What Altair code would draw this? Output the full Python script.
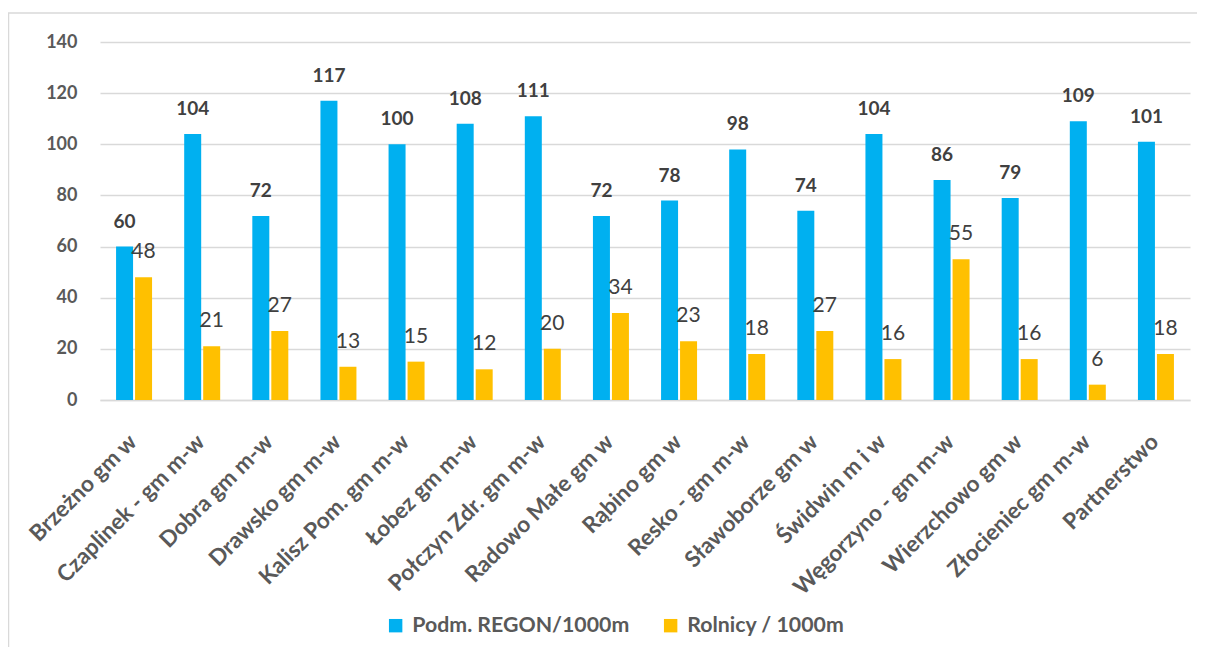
import altair as alt
import pandas as pd

categories = ["Brzeżno gm w", "Czaplinek - gm m-w", "Dobra gm m-w", "Drawsko gm m-w",
              "Kalisz Pom. gm m-w", "Łobez gm m-w", "Połczyn Zdr. gm m-w", "Radowo Małe gm w",
              "Rąbino gm w", "Resko - gm m-w", "Sławoborze gm w", "Świdwin m i w",
              "Węgorzyno - gm m-w", "Wierzchowo gm w", "Złocieniec gm m-w", "Partnerstwo"]
regon = [60, 104, 72, 117, 100, 108, 111, 72, 78, 98, 74, 104, 86, 79, 109, 101]
rolnicy = [48, 21, 27, 13, 15, 12, 20, 34, 23, 18, 27, 16, 55, 16, 6, 18]
series = ["Podm. REGON/1000m", "Rolnicy / 1000m"]
colors = ["#00B0F0", "#FFC000"]

rows = []
for c, a, b in zip(categories, regon, rolnicy):
    rows.append({"cat": c, "series": series[0], "value": a})
    rows.append({"cat": c, "series": series[1], "value": b})
df = pd.DataFrame(rows)

FONT = "Lato"

x_enc = alt.X("cat:N", sort=categories, title=None,
              scale=alt.Scale(paddingInner=0.4716, paddingOuter=0.2358),
              axis=alt.Axis(labelAngle=-45, labelAlign="right", labelBaseline="middle",
                            labelFontSize=22.5, labelFontWeight="bold", labelColor="#595959",
                            labelFont=FONT, labelPadding=38, labelOffset=-1, ticks=False,
                            domainColor="#D9D9D9", domainWidth=1.5, labelLimit=400))
xoff = alt.XOffset("series:N", sort=series,
                   scale=alt.Scale(domain=series, paddingInner=0.105, paddingOuter=0))
y_enc = alt.Y("value:Q", title=None,
              scale=alt.Scale(domain=[0, 140], nice=False),
              axis=alt.Axis(values=list(range(0, 141, 20)), labelFontSize=18,
                            labelFontWeight="bold", labelColor="#595959", labelFont=FONT,
                            labelPadding=23, ticks=False, domain=False,
                            gridColor="#D9D9D9", gridWidth=1.5))

base = alt.Chart(df)

bars = base.mark_bar().encode(
    x=x_enc, xOffset=xoff, y=y_enc,
    color=alt.Color("series:N", sort=series,
                    scale=alt.Scale(domain=series, range=colors),
                    legend=alt.Legend(title=None, orient="none", direction="horizontal",
                                      legendX=285, legendY=573, symbolType="square",
                                      symbolSize=180, symbolStrokeWidth=0,
                                      labelFontSize=21.3, labelFontWeight="bold",
                                      labelColor="#595959", labelFont=FONT, labelLimit=400,
                                      labelOffset=6, columnPadding=30))
)

lab_blue = base.transform_filter(alt.datum.series == series[0]).mark_text(
    baseline="bottom", dy=-15, fontSize=19, fontWeight="bold", color="#404040", font=FONT
).encode(x=alt.X("cat:N", sort=categories), xOffset=xoff, y="value:Q", text="value:Q")

lab_yel = base.transform_filter(alt.datum.series == series[1]).mark_text(
    baseline="bottom", dy=-15, fontSize=21, fontWeight="normal", color="#404040", font=FONT
).encode(x=alt.X("cat:N", sort=categories), xOffset=xoff, y="value:Q", text="value:Q")

border = alt.Chart(pd.DataFrame({"a": [0]})).mark_rect(
    fill=None, stroke="#D9D9D9", strokeWidth=1.5
).encode(x=alt.value(-91.5), x2=alt.value(1200), y=alt.value(-29), y2=alt.value(700))

chart = alt.layer(border, bars, lab_blue, lab_yel).properties(
    width=1090, height=358,
    padding={"left": 92, "top": 34, "right": 7, "bottom": 247},
    autosize=alt.AutoSizeParams(type="none"),
    background="white",
).configure_view(stroke=None)

chart.save("out.html", embed_options={"renderer": "svg", "actions": False})
